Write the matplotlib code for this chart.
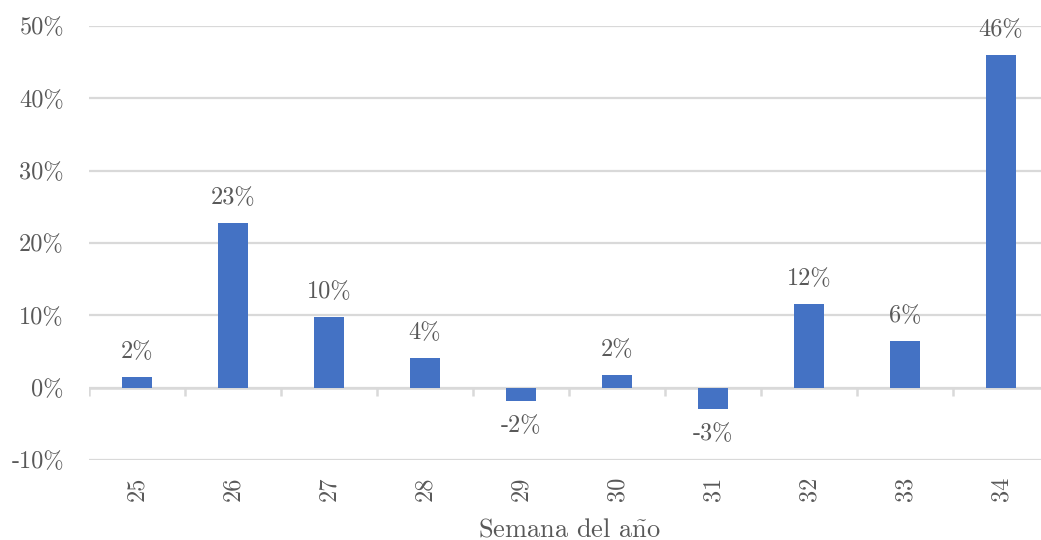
import matplotlib
matplotlib.use('Agg')
import matplotlib.pyplot as plt
import numpy as np

weeks = ['25', '26', '27', '28', '29', '30', '31', '32', '33', '34']
change = [1.5, 22.7, 9.8, 4.1, -1.9, 1.8, -2.9, 11.6, 6.4, 46.0]
yticks = [-10, 0, 10, 20, 30, 40, 50]

plt.rcParams['font.family'] = ['cmr10', 'DejaVu Serif']
plt.rcParams['mathtext.fontset'] = 'cm'
plt.rcParams['axes.formatter.use_mathtext'] = True

text_col = '#595959'
grid_col = '#D9D9D9'
bar_col = '#4472C4'
fs = 17.5

fig = plt.figure(figsize=(10.41, 5.4), dpi=100)
ax = fig.add_axes([89 / 1041, 80 / 540, 960 / 1041, 434 / 540])

x = np.arange(len(weeks))
bars = ax.bar(x, change, width=0.31, color=bar_col, zorder=3)

ax.set_xlim(-0.5, len(weeks) - 0.5)
ax.set_ylim(-10, 50)
ax.set_yticks(yticks)
ax.set_yticklabels([f'{t}%' for t in yticks])
ax.set_xticks(x)
ax.set_xticklabels(weeks, rotation=90)
ax.tick_params(axis='both', length=0, labelsize=fs, colors=text_col)
ax.tick_params(axis='y', pad=18)
ax.tick_params(axis='x', pad=12)

for s in ax.spines.values():
    s.set_visible(False)
ax.grid(axis='y', color=grid_col, linewidth=1.6, zorder=0)
ax.axhline(0, color=grid_col, linewidth=1.8, zorder=2)
bounds = np.arange(len(weeks) + 1) - 0.5
ax.vlines(bounds, -1.1, 0, color=grid_col, linewidth=1.8, zorder=2)

for b, v in zip(bars, change):
    xc = b.get_x() + b.get_width() / 2
    if v >= 0:
        ax.annotate(f'{v:.0f}%', xy=(xc, v), xytext=(0, 10), textcoords='offset points',
                    ha='center', va='bottom', fontsize=fs, color=text_col)
    else:
        ax.annotate(f'{v:.0f}%', xy=(xc, v), xytext=(0, -10), textcoords='offset points',
                    ha='center', va='top', fontsize=fs, color=text_col)

ax.set_xlabel(r'Semana del a$\tilde{\mathrm{n}}$o', fontsize=19, color=text_col, labelpad=12)

fig.savefig('out.png', dpi=100)
